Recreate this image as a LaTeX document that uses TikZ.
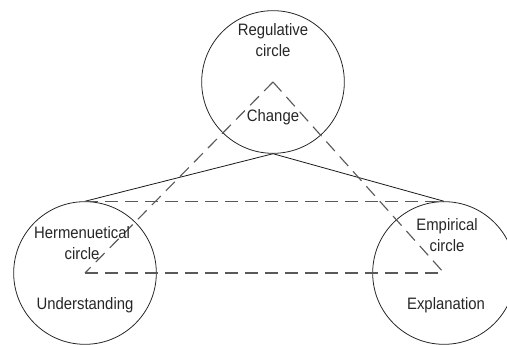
\documentclass[tikz,border=0pt]{standalone}
\usepackage{fontspec}
\setmainfont{Liberation Sans}[FakeStretch=0.9]
\begin{document}
\begin{tikzpicture}[x=0.75pt,y=0.75pt,
		ring/.style={draw=black!85, circle, minimum size=107pt, inner sep=0pt, line width=0.6pt},
		dashline/.style={draw=black!65, dash pattern=on 9.5pt off 5.5pt, line width=0.85pt},
		solidline/.style={draw=black!90, line width=0.6pt},
		lbl/.style={align=center, text=black!85, font=\fontsize{12.4}{15.5}\selectfont}]
		\clip (0,0) rectangle (507,345);

		\node[ring] (reg) at (273,263) {};
		\node[ring] (herm) at (85,72) {};
		\node[ring] (emp) at (444,72) {};

		\draw[solidline] (reg.south) -- (herm.north);
		\draw[solidline] (reg.south) -- (emp.north);
		\draw[dashline] (herm.north) -- (emp.north);

		\draw[dashline] (reg.center) -- (herm.center);
		\draw[dashline] (reg.center) -- (emp.center);
		\draw[dashline] (herm.center) -- (emp.center);

		\node[lbl] (reglbl) at (273,305) {Regulative\\circle};
		\node[lbl] (change) at (273,228) {Change};
		\node[lbl] (hermlbl) at (82,102) {Hermenuetical\\circle};
		\node[lbl] (underst) at (85,40) {Understanding};
		\node[lbl] (emplbl) at (447,110) {Empirical\\circle};
		\node[lbl] (explan) at (446,40) {Explanation};

	\end{tikzpicture}
\end{document}
